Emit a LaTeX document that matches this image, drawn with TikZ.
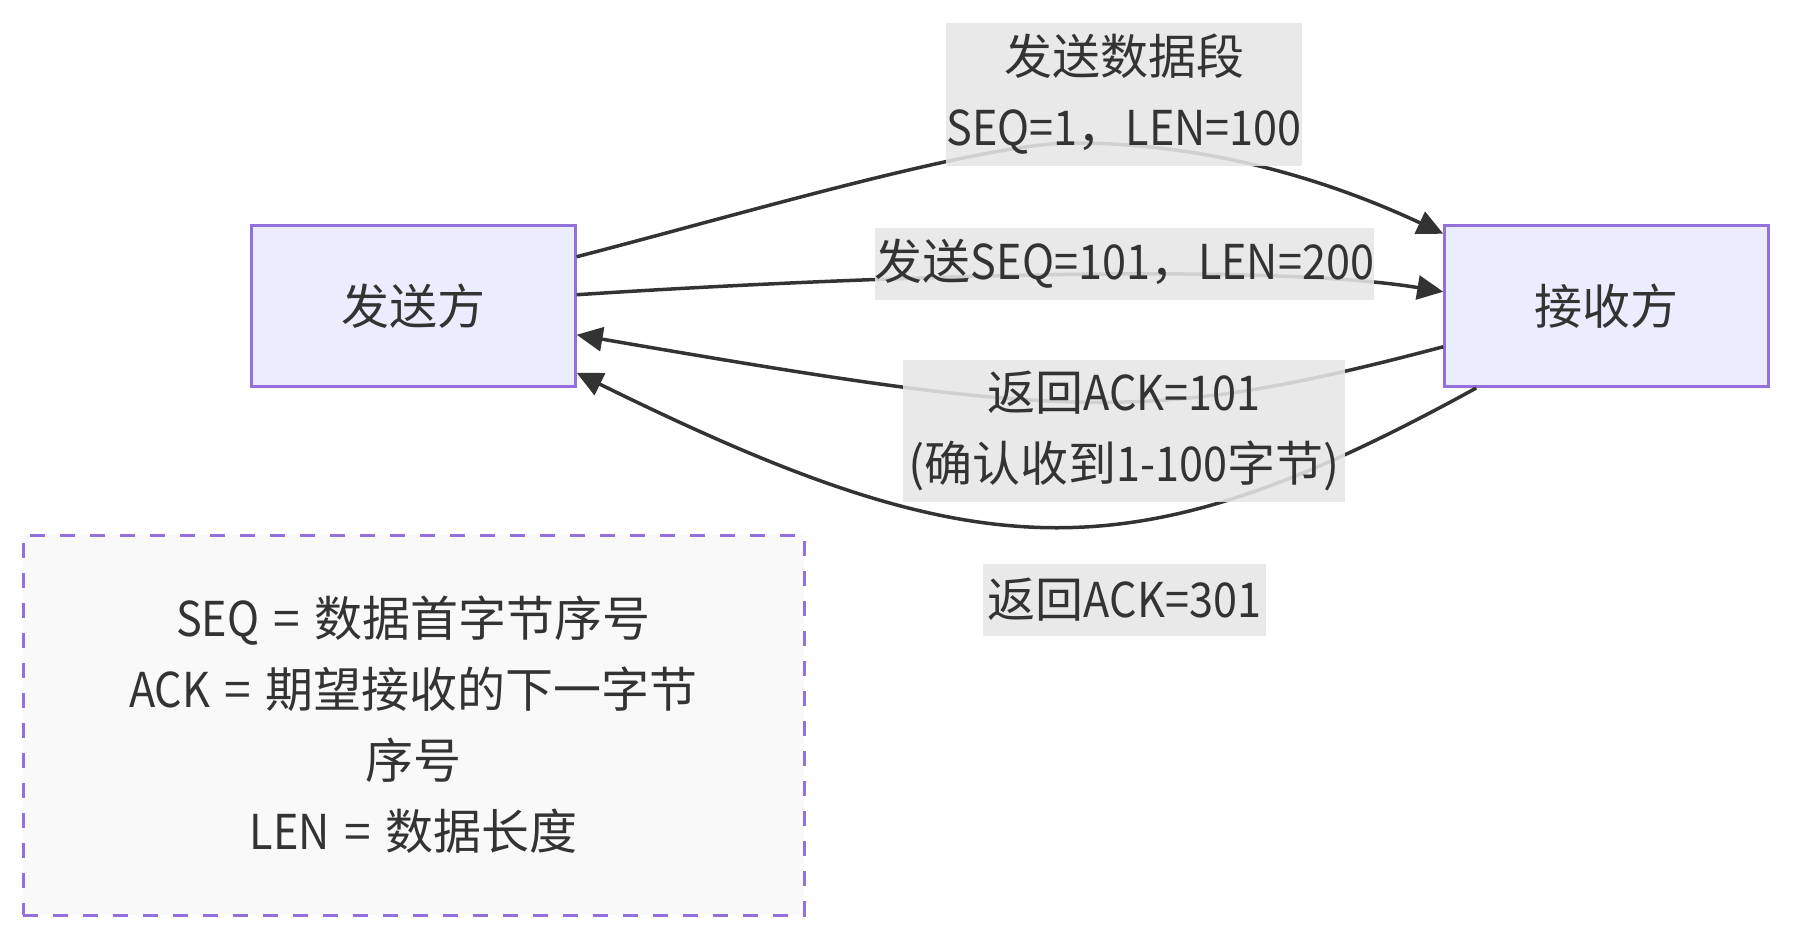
\documentclass[tikz,border=0pt]{standalone}
\usepackage{fontspec}
\setmainfont{Noto Sans CJK SC}
\newfontfamily\latfont[FakeStretch=0.9]{Noto Sans CJK SC}
\usetikzlibrary{arrows.meta,calc}
\definecolor{boxfill}{HTML}{ECECFF}
\definecolor{boxline}{HTML}{9370DB}
\definecolor{ink}{HTML}{333333}
\definecolor{lblbg}{HTML}{E6E6E6}
\definecolor{notefill}{HTML}{F9F9F9}
\newcommand{\lblfont}{\fontsize{48}{71}\selectfont}
\newcommand{\eqsign}{\hspace{0.3em}=\hspace{0.3em}}
\begin{document}
\begin{tikzpicture}[x=1pt,y=-1pt,
  party/.style={draw=boxline, line width=3pt, fill=boxfill, minimum width=323.5pt, minimum height=161.5pt, inner sep=0pt, text=ink, font=\lblfont},
  notebox/.style={draw=boxline, line width=3pt, dash pattern=on 15pt off 15pt, fill=notefill, minimum width=781pt, minimum height=380pt, inner sep=0pt, text=ink, font=\lblfont, align=center},
  edge/.style={draw=ink, line width=3.5pt, -{Triangle[length=26pt,width=24pt]}},
  lbl/.style={fill=lblbg, fill opacity=0.88, text opacity=1, inner sep=0pt, text=ink, font=\lblfont, align=center}]
\useasboundingbox (0,0) rectangle (1793,939);
\node[party] (s) at (413.4,305.75) {发送方};
\node[party] (r) at (1606.5,305.75) {接收方};
\node[notebox] (n) at (413.5,725) {{\latfont SEQ}\eqsign 数据首字节序号\\{\latfont ACK}\eqsign 期望接收的下一字节\\序号\\{\latfont LEN}\eqsign 数据长度};
\draw[edge] ($(s.east)+(0,-49)$) .. controls (742,214) and (980,143) .. (1073,143) .. controls (1200,143) and (1320,176) .. ($(r.west)+(0,-72)$);
\draw[edge] ($(s.east)+(0,-11)$) .. controls (800,280) and (1250,260) .. ($(r.west)+(0,-14)$);
\draw[edge] ($(r.west)+(0,41)$) .. controls (1147,425) and (1065,419) .. ($(s.east)+(0,29)$);
\draw[edge] ($(r.south west)+(33,0)$) .. controls (1132,577) and (983,573) .. ($(s.east)+(0,67)$);
\node[lbl, minimum width=344pt, minimum height=143pt] (l1) at (1124,94.5) {发送数据段\\{\latfont SEQ=1}，{\latfont LEN=100}};
\node[lbl, minimum width=493pt, minimum height=72pt] (l2) at (1124.5,264) {发送{\latfont SEQ=101}，{\latfont LEN=200}};
\node[lbl, minimum width=442pt, minimum height=142pt] (l3) at (1124,431) {返回{\latfont ACK=101}\\(确认收到{\latfont 1-100}字节)};
\node[lbl, minimum width=283pt, minimum height=72pt] (l4) at (1124.5,600) {返回{\latfont ACK=301}};
\end{tikzpicture}
\end{document}
